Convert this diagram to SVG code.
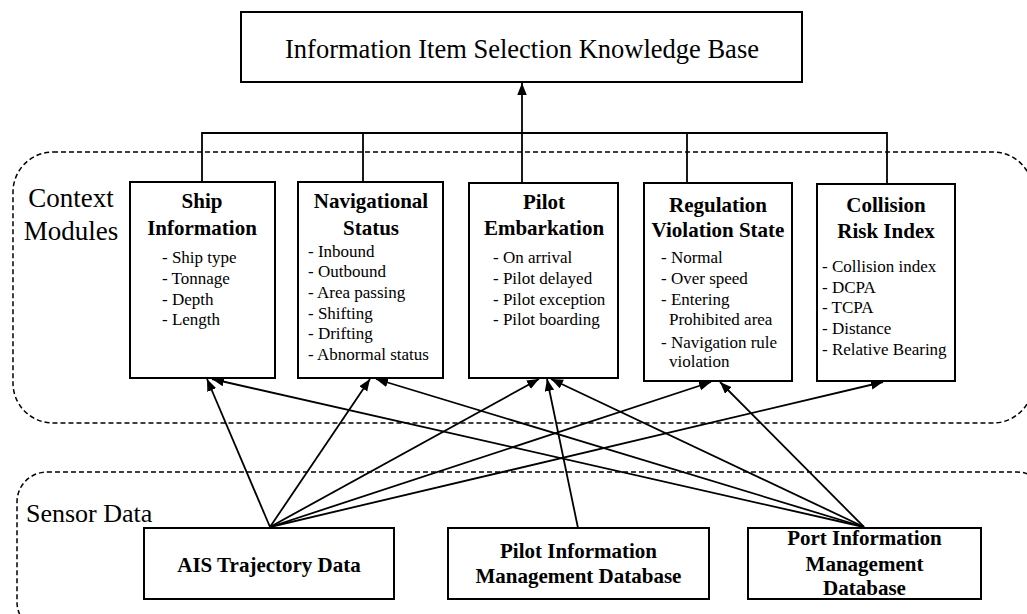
<svg xmlns="http://www.w3.org/2000/svg" width="1027" height="614" viewBox="0 0 1027 614">
<style>
.box{fill:#fff;stroke:#000;stroke-width:2}
.region{fill:none;stroke:#000;stroke-width:1.5;stroke-dasharray:5 3}
.t{font-family:"Liberation Serif","Times New Roman",serif;fill:#000}
.h{font-family:"Liberation Serif","Times New Roman",serif;font-weight:bold;font-size:21px;text-anchor:middle;fill:#000}
.i{font-family:"Liberation Serif","Times New Roman",serif;font-size:17px;fill:#000}
.c{fill:none;stroke:#000;stroke-width:1.8}
</style>
<defs>
<marker id="ah" markerUnits="userSpaceOnUse" markerWidth="13" markerHeight="10" refX="12" refY="4.75" orient="auto">
<path d="M0,0 L12,4.75 L0,9.5 z" fill="#000"/>
</marker>
</defs>
<rect fill="#fff" x="0" y="0" width="1027" height="614"/>

<g id="region-context">
<rect class="region" x="13" y="152" width="1020" height="271" rx="40" ry="40"/>
<text class="t" x="71" y="207" font-size="27" text-anchor="middle">Context</text>
<text class="t" x="71" y="240" font-size="27" text-anchor="middle">Modules</text>
</g>
<g id="region-sensor">
<rect class="region" x="17" y="472" width="1030" height="160" rx="30" ry="30"/>
<text class="t" x="26" y="522" font-size="26">Sensor Data</text>
</g>

<g id="connectors">
<polyline class="c" points="202,182 202,133 887,133 887,184"/>
<line class="c" x1="363" y1="133" x2="363" y2="182"/>
<line class="c" x1="687" y1="133" x2="687" y2="183"/>
<line class="c" x1="522" y1="183" x2="522" y2="133"/>
<line class="c" x1="522" y1="133" x2="522" y2="83" marker-end="url(#ah)"/>
<line class="c" x1="270" y1="527" x2="207" y2="379" marker-end="url(#ah)"/>
<line class="c" x1="270" y1="527" x2="370" y2="379" marker-end="url(#ah)"/>
<line class="c" x1="270" y1="527" x2="539" y2="379" marker-end="url(#ah)"/>
<line class="c" x1="270" y1="527" x2="711" y2="382" marker-end="url(#ah)"/>
<line class="c" x1="270" y1="527" x2="883" y2="382" marker-end="url(#ah)"/>
<line class="c" x1="578" y1="528" x2="547" y2="379" marker-end="url(#ah)"/>
<line class="c" x1="864" y1="527" x2="212" y2="379" marker-end="url(#ah)"/>
<line class="c" x1="864" y1="527" x2="376" y2="379" marker-end="url(#ah)"/>
<line class="c" x1="864" y1="527" x2="551" y2="379" marker-end="url(#ah)"/>
<line class="c" x1="864" y1="527" x2="720" y2="382" marker-end="url(#ah)"/>
</g>

<g id="kb">
<rect class="box" x="241" y="12" width="561" height="70"/>
<text class="t" x="522" y="58" font-size="26.5" text-anchor="middle">Information Item Selection Knowledge Base</text>
</g>

<g id="ship-info">
<rect class="box" x="130" y="182" width="145" height="196"/>
<text class="h" x="202" y="208">Ship</text>
<text class="h" x="202" y="235">Information</text>
<text class="i" x="162" y="263">- Ship type</text>
<text class="i" x="162" y="284">- Tonnage</text>
<text class="i" x="162" y="305">- Depth</text>
<text class="i" x="162" y="325">- Length</text>
</g>

<g id="nav-status">
<rect class="box" x="298" y="182" width="145" height="196"/>
<text class="h" x="371" y="208">Navigational</text>
<text class="h" x="371" y="235">Status</text>
<text class="i" x="308" y="257">- Inbound</text>
<text class="i" x="308" y="277">- Outbound</text>
<text class="i" x="308" y="298">- Area passing</text>
<text class="i" x="308" y="319">- Shifting</text>
<text class="i" x="308" y="339">- Drifting</text>
<text class="i" x="308" y="360">- Abnormal status</text>
</g>

<g id="pilot-embarkation">
<rect class="box" x="469" y="183" width="149" height="195"/>
<text class="h" x="544" y="209">Pilot</text>
<text class="h" x="544" y="235">Embarkation</text>
<text class="i" x="493" y="263">- On arrival</text>
<text class="i" x="493" y="284">- Pilot delayed</text>
<text class="i" x="493" y="305">- Pilot exception</text>
<text class="i" x="493" y="325">- Pilot boarding</text>
</g>

<g id="regulation-violation">
<rect class="box" x="644" y="183" width="148" height="198"/>
<text class="h" x="718" y="212">Regulation</text>
<text class="h" x="718" y="237">Violation State</text>
<text class="i" x="661" y="263">- Normal</text>
<text class="i" x="661" y="284">- Over speed</text>
<text class="i" x="661" y="305">- Entering</text>
<text class="i" x="669" y="325">Prohibited area</text>
<text class="i" x="661" y="348">- Navigation rule</text>
<text class="i" x="669" y="367">violation</text>
</g>

<g id="collision-risk">
<rect class="box" x="817" y="184" width="138" height="197"/>
<text class="h" x="886" y="212">Collision</text>
<text class="h" x="886" y="238">Risk Index</text>
<text class="i" x="822" y="272">- Collision index</text>
<text class="i" x="822" y="293">- DCPA</text>
<text class="i" x="822" y="313">- TCPA</text>
<text class="i" x="822" y="334">- Distance</text>
<text class="i" x="822" y="355">- Relative Bearing</text>
</g>

<g id="ais">
<rect class="box" x="144" y="528" width="250" height="71"/>
<text class="h" x="269" y="572">AIS Trajectory Data</text>
</g>

<g id="pilot-db">
<rect class="box" x="448" y="528" width="261" height="71"/>
<text class="h" x="578.5" y="558">Pilot Information</text>
<text class="h" x="578.5" y="583">Management Database</text>
</g>

<g id="port-db">
<rect class="box" x="748" y="528" width="233" height="71"/>
<text class="h" x="864.5" y="545">Port Information</text>
<text class="h" x="864.5" y="571">Management</text>
<text class="h" x="864.5" y="595">Database</text>
</g>
</svg>
